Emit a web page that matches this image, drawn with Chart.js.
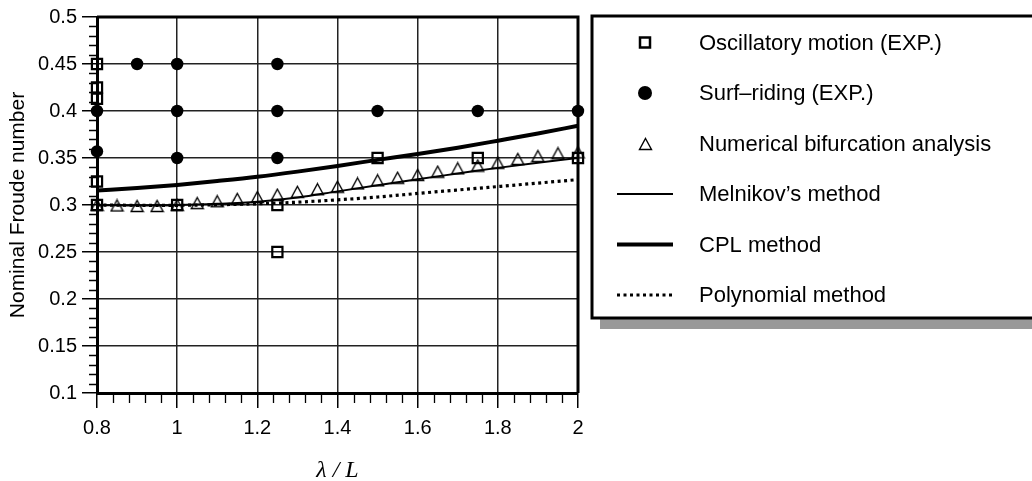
<!DOCTYPE html>
<html>
<head>
<meta charset="utf-8">
<script src="https://cdn.jsdelivr.net/npm/chart.js@4"></script>
<style>
    html, body { margin: 0; padding: 0; background: #fff; }
    #wrap { width: 1032px; height: 481px; }
</style>
</head>
<body>
<div id="wrap"><canvas id="chart" width="1032" height="481"></canvas></div>
<script>
// ---- data ----
const oscX  = [0.8, 0.8, 0.8, 0.8, 0.8, 1.0, 1.25, 1.25, 1.5, 1.75, 2.0];
const oscFn = [0.45, 0.425, 0.413, 0.325, 0.3, 0.3, 0.3, 0.25, 0.35, 0.35, 0.35];

const surfX  = [0.8, 0.8, 0.9, 1.0, 1.0, 1.0, 1.25, 1.25, 1.25, 1.5, 1.75, 2.0];
const surfFn = [0.4, 0.357, 0.45, 0.45, 0.4, 0.35, 0.45, 0.4, 0.35, 0.4, 0.4, 0.4];

const bifX  = [0.8, 0.85, 0.9, 0.95, 1.0, 1.05, 1.1, 1.15, 1.2, 1.25, 1.3, 1.35, 1.4,
               1.45, 1.5, 1.55, 1.6, 1.65, 1.7, 1.75, 1.8, 1.85, 1.9, 1.95, 2.0];
const bifFn = [0.300, 0.2995, 0.299, 0.299, 0.300, 0.302, 0.304, 0.3065, 0.3085, 0.311, 0.314, 0.3168, 0.3195,
               0.323, 0.3263, 0.329, 0.332, 0.3355, 0.339, 0.342, 0.345, 0.349, 0.352, 0.355, 0.356];

const curveX      = [0.8, 0.9, 1.0, 1.1, 1.2, 1.3, 1.4, 1.5, 1.6, 1.7, 1.8, 1.9, 2.0];
const melnikovFn  = [0.300, 0.2995, 0.2998, 0.3012, 0.3035, 0.308, 0.3145, 0.321, 0.3275, 0.3335, 0.3395, 0.345, 0.350];
const cplFn       = [0.3154, 0.318, 0.3214, 0.3255, 0.330, 0.3355, 0.3416, 0.348, 0.3543, 0.361, 0.3684, 0.376, 0.3843];
const polyFn      = [0.300, 0.2997, 0.2997, 0.3003, 0.3013, 0.303, 0.3055, 0.3085, 0.3123, 0.316, 0.3196, 0.3233, 0.327];

const seriesLabels = [
    'Oscillatory motion (EXP.)',
    'Surf\u2013riding (EXP.)',
    'Numerical bifurcation analysis',
    'Melnikov\u2019s method',
    'CPL method',
    'Polynomial method',
];

const X_MIN = 0.8, X_MAX = 2.0, X_MINOR = 0.04, X_MAJOR = 0.2;
const Y_MIN = 0.1, Y_MAX = 0.5, Y_MINOR = 0.01, Y_MAJOR = 0.05;

const FONT      = "'Liberation Sans', Arial, sans-serif";
const INK       = '#000';
const GRID      = '#222';

const toPoints = (xs, ys) => xs.map((x, i) => ({ x, y: ys[i] }));

function tickValues(min, max, step) {
    const n = Math.round((max - min) / step);
    const out = [];
    for (let i = 0; i <= n; i++) out.push({ value: +(min + i * step).toFixed(4) });
    return out;
}
const isMajor = (v, step) => Math.abs(v / step - Math.round(v / step)) < 1e-6;

// hollow triangle centred on its bounding box (the built-in one is centred on its circumcircle)
function makeTriangle(w, h, lw) {
    const c = document.createElement('canvas');
    c.width = w + 3; c.height = h + 3;
    const g = c.getContext('2d');
    g.strokeStyle = INK;
    g.lineWidth = lw;
    g.lineJoin = 'miter';
    g.beginPath();
    g.moveTo(c.width / 2, 1.5);
    g.lineTo(c.width - 1.5, c.height - 1.5);
    g.lineTo(1.5, c.height - 1.5);
    g.closePath();
    g.stroke();
    return c;
}
const triMark = makeTriangle(12, 11, 1.4);

// minor ticks, frame and legend box
const decorPlugin = {
    id: 'decor',
    afterDraw(chart) {
        const { ctx, chartArea: a, scales } = chart;
        ctx.save();
        ctx.strokeStyle = INK;

        // minor ticks
        ctx.lineWidth = 1.3;
        ctx.beginPath();
        scales.x.ticks.forEach(t => {
            if (isMajor(t.value, X_MAJOR)) return;
            const px = Math.round(scales.x.getPixelForValue(t.value)) + 0.5;
            ctx.moveTo(px, a.bottom);
            ctx.lineTo(px, a.bottom + 10);
        });
        scales.y.ticks.forEach(t => {
            if (isMajor(t.value, Y_MAJOR)) return;
            const py = Math.round(scales.y.getPixelForValue(t.value)) + 0.5;
            ctx.moveTo(a.left - 8, py);
            ctx.lineTo(a.left, py);
        });
        ctx.stroke();

        // top and right frame
        ctx.lineWidth = 3;
        ctx.beginPath();
        ctx.moveTo(a.left, a.top);
        ctx.lineTo(a.right, a.top);
        ctx.lineTo(a.right, a.bottom);
        ctx.stroke();

        // legend box with drop shadow
        const bx = 592, by = 16, bw = 460, bh = 302;
        ctx.fillStyle = '#999';
        ctx.fillRect(bx + 8, by + 8, bw, bh + 3);
        ctx.fillStyle = '#fff';
        ctx.fillRect(bx, by, bw, bh);
        ctx.lineWidth = 3;
        ctx.strokeRect(bx, by, bw, bh);

        const symX = 645, textX = 699, rowY0 = 42.5, rowStep = 50.5;
        ctx.font = `22px ${FONT}`;
        ctx.textBaseline = 'middle';
        ctx.textAlign = 'left';
        chart.data.datasets.forEach((ds, i) => {
            const y = rowY0 + i * rowStep;
            ctx.fillStyle = INK;
            ctx.strokeStyle = INK;
            if (i === 0) {
                ctx.lineWidth = 2.5;
                ctx.strokeRect(symX - 5, y - 5, 10, 10);
            } else if (i === 1) {
                ctx.beginPath();
                ctx.arc(symX, y, 7, 0, Math.PI * 2);
                ctx.fill();
            } else if (i === 2) {
                ctx.drawImage(triMark, Math.round(symX - triMark.width / 2), Math.round(y - triMark.height / 2));
            } else {
                ctx.lineWidth = ds.borderWidth;
                ctx.setLineDash(ds.borderDash || []);
                ctx.beginPath();
                ctx.moveTo(617, y);
                ctx.lineTo(673, y);
                ctx.stroke();
                ctx.setLineDash([]);
            }
            ctx.fillText(ds.label, textX, y + 1);
        });
        ctx.restore();
    },
};

const lineBase = {
    showLine: true,
    pointRadius: 0,
    pointHoverRadius: 0,
    borderColor: INK,
    cubicInterpolationMode: 'monotone',
    clip: false,
};

new Chart(document.getElementById('chart'), {
    type: 'scatter',
    data: {
        datasets: [
            {
                label: seriesLabels[0],
                data: toPoints(oscX, oscFn),
                pointStyle: 'rect',
                pointRadius: 7.2,
                borderWidth: 2.2,
                borderColor: INK,
                backgroundColor: 'rgba(0,0,0,0)',
                clip: false,
            },
            {
                label: seriesLabels[1],
                data: toPoints(surfX, surfFn),
                pointStyle: 'circle',
                pointRadius: 6.2,
                borderWidth: 0,
                backgroundColor: INK,
                clip: false,
            },
            {
                label: seriesLabels[2],
                data: toPoints(bifX, bifFn),
                pointStyle: triMark,
                pointRadius: 7,
                clip: false,
            },
            { ...lineBase, label: seriesLabels[3], data: toPoints(curveX, melnikovFn), borderWidth: 2 },
            { ...lineBase, label: seriesLabels[4], data: toPoints(curveX, cplFn), borderWidth: 4 },
            { ...lineBase, label: seriesLabels[5], data: toPoints(curveX, polyFn), borderWidth: 3.2, borderDash: [3, 3.5] },
        ],
    },
    options: {
        responsive: false,
        animation: false,
        events: [],
        layout: { padding: { top: 16, right: 454, bottom: 0, left: 0 } },
        plugins: { legend: { display: false }, tooltip: { enabled: false } },
        scales: {
            x: {
                type: 'linear',
                min: X_MIN,
                max: X_MAX,
                afterBuildTicks: s => { s.ticks = tickValues(X_MIN, X_MAX, X_MINOR); },
                afterFit: s => { s.height = 88; },
                ticks: {
                    autoSkip: false,
                    maxRotation: 0,
                    padding: 8,
                    color: INK,
                    font: { family: FONT, size: 20 },
                    callback: v => isMajor(v, X_MAJOR) ? String(+v.toFixed(1)) : '',
                },
                grid: {
                    color: c => isMajor(c.tick.value, X_MAJOR) ? GRID : 'rgba(0,0,0,0)',
                    lineWidth: 1.5,
                    tickLength: 15,
                    tickColor: c => isMajor(c.tick.value, X_MAJOR) ? INK : 'rgba(0,0,0,0)',
                    tickWidth: 1.5,
                },
                border: { display: true, color: INK, width: 3 },
                title: {
                    display: true,
                    text: '\u03bb / L',
                    color: INK,
                    font: { family: "'Liberation Serif', 'Times New Roman', serif", style: 'italic', size: 24 },
                    padding: { top: 0, bottom: -4 },
                },
            },
            y: {
                type: 'linear',
                min: Y_MIN,
                max: Y_MAX,
                afterBuildTicks: s => { s.ticks = tickValues(Y_MIN, Y_MAX, Y_MINOR); },
                afterFit: s => { s.width = 97; },
                ticks: {
                    autoSkip: false,
                    padding: 5,
                    color: INK,
                    font: { family: FONT, size: 20 },
                    callback: v => isMajor(v, Y_MAJOR) ? String(+v.toFixed(2)) : '',
                },
                grid: {
                    color: c => isMajor(c.tick.value, Y_MAJOR) ? GRID : 'rgba(0,0,0,0)',
                    lineWidth: 1.5,
                    tickLength: 15,
                    tickColor: c => isMajor(c.tick.value, Y_MAJOR) ? INK : 'rgba(0,0,0,0)',
                    tickWidth: 1.5,
                },
                border: { display: true, color: INK, width: 3 },
                title: {
                    display: true,
                    text: 'Nominal Froude number',
                    color: INK,
                    font: { family: FONT, size: 21 },
                    padding: { top: 6, bottom: 0 },
                },
            },
        },
    },
    plugins: [decorPlugin],
});
</script>
</body>
</html>
